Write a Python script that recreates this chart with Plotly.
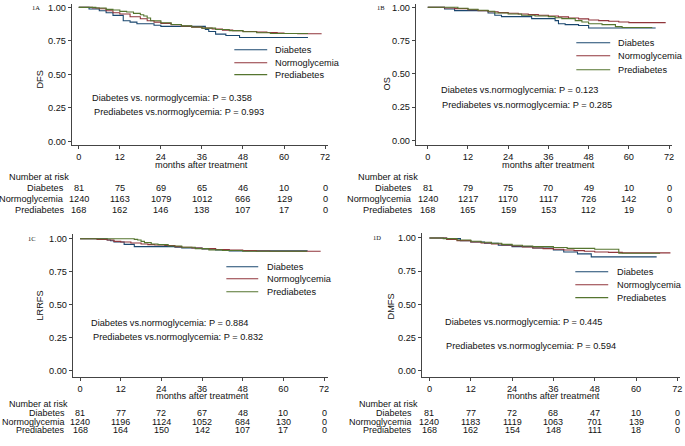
import plotly.graph_objects as go

W, H = 685, 446
FONT = "Arial, 'Liberation Sans', sans-serif"
FS = 9.2
C_DIA = "#1a476f"
C_NOR = "#90353b"
C_PRE = "#55752f"

groups = ["Diabetes", "Normoglycemia", "Prediabetes"]
colors = [C_DIA, C_NOR, C_PRE]
x_ticks = [0, 12, 24, 36, 48, 60, 72]
y_ticks = [0, 0.25, 0.5, 0.75, 1.0]

# ---------------- Panel 1A: DFS ----------------
a_dia_t = [0, 3, 6, 8, 10, 13, 15, 17, 22, 24, 37, 38, 40, 43, 47, 67]
a_dia_s = [1, 0.988, 0.975, 0.96, 0.94, 0.90, 0.89, 0.878, 0.866, 0.858, 0.835, 0.82, 0.80, 0.79, 0.775, 0.775]
a_nor_t = [0, 4, 6, 8, 10, 12, 15, 18, 20, 22, 24, 27, 30, 33, 36, 39, 42, 45, 48, 52, 55, 58, 60, 64, 71]
a_nor_s = [1, 0.995, 0.99, 0.975, 0.96, 0.95, 0.93, 0.915, 0.90, 0.89, 0.88, 0.87, 0.86, 0.852, 0.845, 0.838, 0.83, 0.825, 0.82, 0.815, 0.812, 0.808, 0.805, 0.803, 0.803]
a_pre_t = [0, 5, 8, 10, 12, 14, 16, 18, 19, 20, 21, 24, 27, 30, 33, 36, 40, 44, 48, 52, 56, 67]
a_pre_s = [1, 0.995, 0.985, 0.98, 0.97, 0.965, 0.955, 0.945, 0.935, 0.92, 0.90, 0.885, 0.872, 0.862, 0.853, 0.845, 0.835, 0.826, 0.818, 0.81, 0.805, 0.805]
a_risk = [[81, 75, 69, 65, 46, 10, 0],
          [1240, 1163, 1079, 1012, 666, 129, 0],
          [168, 162, 146, 138, 107, 17, 0]]
a_p = ["Diabetes vs. normoglycemia: P = 0.358", "Prediabetes vs.normoglycemia: P = 0.993"]

# ---------------- Panel 1B: OS ----------------
b_dia_t = [0, 5, 8, 18, 20, 22, 31, 38, 39, 41, 45, 48, 68]
b_dia_s = [1, 0.987, 0.975, 0.957, 0.94, 0.93, 0.915, 0.90, 0.877, 0.87, 0.863, 0.845, 0.845]
b_nor_t = [0, 5, 8, 12, 15, 18, 21, 24, 27, 30, 33, 36, 39, 42, 45, 48, 51, 54, 57, 60, 71]
b_nor_s = [1, 0.995, 0.99, 0.982, 0.975, 0.967, 0.96, 0.955, 0.95, 0.945, 0.94, 0.935, 0.928, 0.92, 0.913, 0.905, 0.90, 0.895, 0.89, 0.885, 0.885]
b_pre_t = [0, 9, 12, 15, 18, 20, 24, 28, 32, 36, 38, 40, 44, 46, 48, 52, 56, 58, 67]
b_pre_s = [1, 0.993, 0.985, 0.978, 0.97, 0.957, 0.95, 0.94, 0.935, 0.93, 0.922, 0.915, 0.90, 0.89, 0.877, 0.87, 0.855, 0.848, 0.848]
b_risk = [[81, 79, 75, 70, 49, 10, 0],
          [1240, 1217, 1170, 1117, 726, 142, 0],
          [168, 165, 159, 153, 112, 19, 0]]
b_p = ["Diabetes vs.normoglycemia: P = 0.123", "Prediabetes vs.normoglycemia: P = 0.285"]

# ---------------- Panel 1C: LRRFS ----------------
c_dia_t = [0, 8, 9, 10, 13, 16, 28, 30, 36, 40, 44, 67]
c_dia_s = [1, 0.99, 0.985, 0.975, 0.957, 0.94, 0.935, 0.93, 0.922, 0.915, 0.908, 0.905]
c_nor_t = [0, 5, 8, 10, 12, 15, 18, 20, 22, 25, 28, 30, 33, 36, 40, 44, 48, 52, 56, 71]
c_nor_s = [1, 0.995, 0.99, 0.98, 0.975, 0.967, 0.96, 0.955, 0.952, 0.948, 0.94, 0.935, 0.93, 0.925, 0.918, 0.913, 0.91, 0.907, 0.905, 0.905]
c_pre_t = [0, 16, 17, 18, 19, 21, 23, 26, 30, 34, 38, 42, 48, 67]
c_pre_s = [1, 0.995, 0.99, 0.98, 0.97, 0.96, 0.955, 0.945, 0.935, 0.925, 0.915, 0.91, 0.905, 0.905]
c_risk = [[81, 77, 72, 67, 48, 10, 0],
          [1240, 1196, 1124, 1052, 684, 130, 0],
          [168, 164, 150, 142, 107, 17, 0]]
c_p = ["Diabetes vs.normoglycemia: P = 0.884", "Prediabetes vs.normoglycemia: P = 0.832"]

# ---------------- Panel 1D: DMFS ----------------
d_dia_t = [0, 5, 9, 12, 16, 20, 24, 30, 36, 39, 43, 47, 66]
d_dia_s = [1, 0.995, 0.98, 0.97, 0.96, 0.945, 0.935, 0.925, 0.91, 0.895, 0.88, 0.858, 0.858]
d_nor_t = [0, 5, 8, 12, 15, 18, 21, 24, 27, 30, 33, 36, 39, 42, 45, 48, 52, 56, 70]
d_nor_s = [1, 0.99, 0.98, 0.97, 0.962, 0.955, 0.947, 0.94, 0.932, 0.925, 0.92, 0.915, 0.91, 0.905, 0.9, 0.895, 0.892, 0.888, 0.888]
d_pre_t = [0, 4, 8, 12, 15, 18, 21, 24, 27, 30, 36, 40, 48, 55, 67]
d_pre_s = [1, 0.995, 0.985, 0.975, 0.968, 0.96, 0.952, 0.945, 0.94, 0.935, 0.928, 0.922, 0.915, 0.885, 0.885]
d_risk = [[81, 77, 72, 68, 47, 10, 0],
          [1240, 1183, 1119, 1063, 701, 139, 0],
          [168, 162, 154, 148, 111, 18, 0]]
d_p = ["Diabetes vs.normoglycemia: P = 0.445", "Prediabetes vs.normoglycemia: P = 0.594"]


def px(v):
    return v / W


def py(v):
    return 1 - v / H


panels = [
    dict(tag="1A", ytitle="DFS",
         curves=[(a_dia_t, a_dia_s), (a_nor_t, a_nor_s), (a_pre_t, a_pre_s)],
         risk=a_risk, p=a_p,
         xdom=(72, 329), xr=(-2.04, 72.87), ydom=(3, 145), yr=(-0.03, 1.025),
         tag_xy=(36, 7), ytitle_xy=(40, 79), leg=(235, 268, 274, [49, 62, 74]),
         p_xy=[(90, 97), (92, 111)], months_y=164.5,
         risk_hdr=(7, 177), risk_name_x=66, risk_rows=[188, 199, 210]),
    dict(tag="1B", ytitle="OS",
         curves=[(b_dia_t, b_dia_s), (b_nor_t, b_nor_s), (b_pre_t, b_pre_s)],
         risk=b_risk, p=b_p,
         xdom=(417, 674), xr=(-3.57, 72.89), ydom=(3, 145), yr=(-0.0375, 1.025),
         tag_xy=(382, 7), ytitle_xy=(388, 83), leg=(578, 612, 618, [42, 55, 69]),
         p_xy=[(440, 89), (441, 104)], months_y=164.5,
         risk_hdr=(357, 177), risk_name_x=415, risk_rows=[188, 199, 210]),
    dict(tag="1C", ytitle="LRRFS",
         curves=[(c_dia_t, c_dia_s), (c_nor_t, c_nor_s), (c_pre_t, c_pre_s)],
         risk=c_risk, p=c_p,
         xdom=(73, 329), xr=(-2.15, 73.18), ydom=(234, 378), yr=(-0.051, 1.036),
         tag_xy=(32, 239), ytitle_xy=(40, 306), leg=(227, 259, 266, [267, 279, 292]),
         p_xy=[(89, 323), (91, 338)], months_y=397,
         risk_hdr=(7, 404.5), risk_name_x=67, risk_rows=[414, 422.5, 431]),
    dict(tag="1D", ytitle="DMFS",
         curves=[(d_dia_t, d_dia_s), (d_nor_t, d_nor_s), (d_pre_t, d_pre_s)],
         risk=d_risk, p=d_p,
         xdom=(423, 682), xr=(-2.23, 72.78), ydom=(233, 378), yr=(-0.05, 1.038),
         tag_xy=(378, 238), ytitle_xy=(392, 307), leg=(577, 610, 617, [272, 285, 298]),
         p_xy=[(444, 322), (445, 347)], months_y=397,
         risk_hdr=(358, 404.5), risk_name_x=415, risk_rows=[414, 422.5, 431]),
]

fig = go.Figure()
annotations = []
shapes = []
layout = {}

AXIS_COL = "#444444"
TXT_COL = "#111111"

for i, p in enumerate(panels):
    k = "" if i == 0 else str(i + 1)
    xa, ya = "x" + k, "y" + k
    bottom = i >= 2
    tfs = 9 if bottom else FS
    for (t, s), name, col in zip(p["curves"], groups, colors):
        fig.add_trace(go.Scatter(x=t, y=s, mode="lines", line=dict(color=col, width=1.1, shape="hv"),
                                 name=name, showlegend=False, xaxis=xa, yaxis=ya, hoverinfo="skip"))
    layout["xaxis" + k] = dict(
        domain=[px(p["xdom"][0]), px(p["xdom"][1])], range=list(p["xr"]), anchor=ya,
        tickvals=x_ticks, ticks="outside", ticklen=3, tickwidth=1, tickcolor=AXIS_COL,
        showline=True, linecolor=AXIS_COL, linewidth=1, showgrid=False, zeroline=False,
        tickfont=dict(family=FONT, size=FS, color=TXT_COL), fixedrange=True)
    layout["yaxis" + k] = dict(
        domain=[py(p["ydom"][1]), py(p["ydom"][0])], range=list(p["yr"]), anchor=xa,
        tickvals=y_ticks, ticktext=["%.2f" % v for v in y_ticks], ticks="outside", ticklen=3,
        tickwidth=1, tickcolor=AXIS_COL, showline=True, linecolor=AXIS_COL, linewidth=1,
        showgrid=False, zeroline=False, tickfont=dict(family=FONT, size=FS, color=TXT_COL),
        fixedrange=True)
    # panel tag
    annotations.append(dict(text=p["tag"], x=px(p["tag_xy"][0]), y=py(p["tag_xy"][1]),
                            xref="paper", yref="paper", xanchor="center", yanchor="middle",
                            showarrow=False, font=dict(family="'Liberation Serif', serif", size=6.5, color=TXT_COL)))
    # y title
    annotations.append(dict(text=p["ytitle"], x=px(p["ytitle_xy"][0]), y=py(p["ytitle_xy"][1]),
                            xref="paper", yref="paper", xanchor="center", yanchor="middle",
                            textangle=-90, showarrow=False, font=dict(family=FONT, size=FS, color=TXT_COL)))
    # x title
    annotations.append(dict(text="months after treatment", x=36, y=py(p["months_y"]),
                            xref=xa, yref="paper", xanchor="center", yanchor="middle",
                            showarrow=False, font=dict(family=FONT, size=FS, color=TXT_COL)))
    # legend
    x0, x1, xt, ys = p["leg"]
    for name, col, yy in zip(groups, colors, ys):
        shapes.append(dict(type="line", xref="paper", yref="paper", x0=px(x0), x1=px(x1),
                           y0=py(yy), y1=py(yy), line=dict(color=col, width=1.1)))
        annotations.append(dict(text=name, x=px(xt), y=py(yy), xref="paper", yref="paper",
                                xanchor="left", yanchor="middle", showarrow=False,
                                font=dict(family=FONT, size=FS, color=TXT_COL)))
    # p-values
    for txt, (xx, yy) in zip(p["p"], p["p_xy"]):
        annotations.append(dict(text=txt, x=px(xx), y=py(yy), xref="paper", yref="paper",
                                xanchor="left", yanchor="middle", showarrow=False,
                                font=dict(family=FONT, size=FS, color=TXT_COL)))
    # risk table
    hx, hy = p["risk_hdr"]
    annotations.append(dict(text="Number at risk", x=px(hx), y=py(hy), xref="paper", yref="paper",
                            xanchor="left", yanchor="middle", showarrow=False,
                            font=dict(family=FONT, size=tfs, color=TXT_COL)))
    for name, row, yy in zip(groups, p["risk"], p["risk_rows"]):
        annotations.append(dict(text=name, x=px(p["risk_name_x"]), y=py(yy), xref="paper",
                                yref="paper", xanchor="right", yanchor="middle", showarrow=False,
                                font=dict(family=FONT, size=tfs, color=TXT_COL)))
        for tx, n in zip(x_ticks, row):
            annotations.append(dict(text=str(n), x=tx, y=py(yy), xref=xa, yref="paper",
                                    xanchor="center", yanchor="middle", showarrow=False,
                                    font=dict(family=FONT, size=tfs, color=TXT_COL)))

fig.update_layout(
    width=W, height=H, margin=dict(l=0, r=0, t=0, b=0),
    paper_bgcolor="white", plot_bgcolor="white", showlegend=False,
    annotations=annotations, shapes=shapes, **layout)

fig.write_html("out.html", include_plotlyjs=True, config={"displayModeBar": False},
               post_script="document.body.style.margin='0px';document.body.style.overflow='hidden';")
